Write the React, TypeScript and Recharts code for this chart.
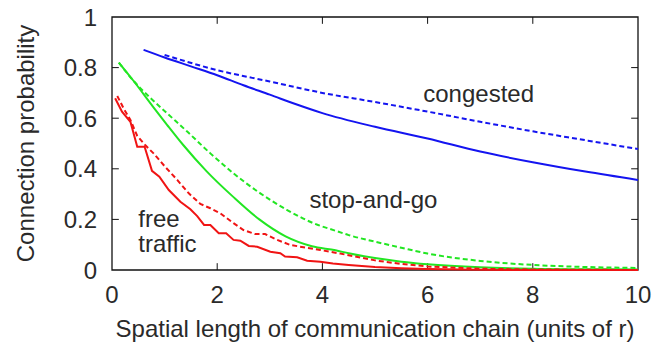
import React from 'react';
import { LineChart, Line, XAxis, YAxis, ReferenceArea, ReferenceLine, ReferenceDot, Label } from 'recharts';

// x positions in units of r
const congestedX = [0.6, 1, 1.5, 2, 2.5, 3, 3.5, 4, 5, 6, 7, 8, 9, 10];
const congestedSim = [0.87, 0.84, 0.805, 0.77, 0.73, 0.693, 0.655, 0.62, 0.566, 0.52, 0.468, 0.426, 0.389, 0.356];
const congestedApproxX = [1, 2, 3, 4, 5, 6, 7, 8, 9, 10];
const congestedApprox = [0.85, 0.79, 0.745, 0.7, 0.664, 0.626, 0.586, 0.548, 0.513, 0.478];

const stopGoX = [0.13, 0.4, 0.8, 1.05, 1.35, 1.8, 2.3, 2.8, 3.3, 3.8, 4.25, 4.5, 5, 5.5, 6, 7, 8, 9, 10];
const stopGoSim = [0.82, 0.75, 0.64, 0.573, 0.495, 0.39, 0.29, 0.2, 0.133, 0.094, 0.078, 0.066, 0.047, 0.033, 0.023, 0.011, 0.005, 0.003, 0.002];
const stopGoApproxX = [0.13, 0.4, 0.73, 1.05, 1.43, 1.87, 2.31, 2.82, 3.33, 3.83, 4.25, 4.5, 5, 5.5, 6, 7, 8, 9, 10];
const stopGoApprox = [0.82, 0.75, 0.68, 0.619, 0.547, 0.461, 0.382, 0.303, 0.237, 0.185, 0.155, 0.138, 0.112, 0.088, 0.065, 0.036, 0.02, 0.012, 0.008];

const freeX = [0.06, 0.19, 0.35, 0.48, 0.62, 0.76, 0.9, 1.08, 1.3, 1.49, 1.62, 1.75, 1.87, 2.03, 2.17, 2.31, 2.44, 2.6, 2.76, 3.01, 3.2, 3.29, 3.52, 3.71, 3.96, 4.2, 4.5, 5, 5.5, 6, 7, 8, 10];
const freeSim = [0.679, 0.626, 0.586, 0.487, 0.487, 0.392, 0.369, 0.316, 0.27, 0.24, 0.213, 0.178, 0.178, 0.145, 0.145, 0.119, 0.116, 0.095, 0.092, 0.072, 0.066, 0.053, 0.05, 0.037, 0.033, 0.026, 0.02, 0.012, 0.007, 0.004, 0.001, 0, 0];
const freeApproxX = [0.1, 0.22, 0.35, 0.48, 0.63, 0.79, 1.01, 1.24, 1.46, 1.68, 1.87, 2.06, 2.31, 2.5, 2.72, 2.91, 3.14, 3.39, 3.64, 3.96, 4.34, 5, 5.5, 6, 7, 8, 10];
const freeApprox = [0.688, 0.639, 0.593, 0.53, 0.494, 0.461, 0.408, 0.356, 0.303, 0.261, 0.244, 0.224, 0.185, 0.158, 0.142, 0.142, 0.119, 0.099, 0.09, 0.079, 0.065, 0.038, 0.024, 0.014, 0.005, 0.002, 0];

const X_TICKS = [0, 2, 4, 6, 8, 10];
const Y_TICKS = [0, 0.2, 0.4, 0.6, 0.8, 1];

const BLUE = '#1414f0';
const GREEN = '#22e622';
const RED = '#f01414';
const TEXT = '#2a2a2a';

const toPoints = (xs: number[], ys: number[]) => xs.map((x, i) => ({ x, y: ys[i] }));

// text placed at a data point: baseline at the point, anchored as given
const annotation = (text: string, anchor: 'start' | 'middle') => (props: any) => {
  const { x, y } = props.viewBox;
  return (
    <text x={x} y={y} textAnchor={anchor} fill={TEXT} fontSize={24}>
      {text}
    </text>
  );
};

export default function App() {
  const series = [
    { key: 'congested-sim', data: toPoints(congestedX, congestedSim), color: BLUE, dash: undefined, type: 'monotone' },
    { key: 'congested-approx', data: toPoints(congestedApproxX, congestedApprox), color: BLUE, dash: '5 3', type: 'monotone' },
    { key: 'stopgo-sim', data: toPoints(stopGoX, stopGoSim), color: GREEN, dash: undefined, type: 'monotone' },
    { key: 'stopgo-approx', data: toPoints(stopGoApproxX, stopGoApprox), color: GREEN, dash: '5 3', type: 'monotone' },
    { key: 'free-sim', data: toPoints(freeX, freeSim), color: RED, dash: undefined, type: 'linear' },
    { key: 'free-approx', data: toPoints(freeApproxX, freeApprox), color: RED, dash: '5 3', type: 'linear' },
  ];

  const innerX = X_TICKS.slice(1, -1);
  const innerY = Y_TICKS.slice(1, -1);

  return (
    <div style={{ position: 'absolute', left: 0, top: 0, width: 669, height: 345, background: '#fff', fontFamily: '"Liberation Sans", Arial, sans-serif' }}>
      <LineChart width={669} height={345} margin={{ top: 17, right: 31, left: 0, bottom: 0 }}>
        <XAxis
          type="number"
          dataKey="x"
          domain={[0, 10]}
          ticks={X_TICKS}
          axisLine={false}
          tickLine={false}
          tickSize={0}
          tickMargin={16}
          height={75}
          tick={{ fill: TEXT, fontSize: 24 }}
        >
          <Label value="Spatial length of communication chain (units of r)" position="insideBottom" offset={8} fill={TEXT} fontSize={24} />
        </XAxis>
        <YAxis
          type="number"
          dataKey="y"
          domain={[0, 1]}
          ticks={Y_TICKS}
          axisLine={false}
          tickLine={false}
          tickSize={0}
          tickMargin={15}
          width={112}
          tick={{ fill: TEXT, fontSize: 24 }}
        >
          <Label value="Connection probability" angle={-90} position="insideLeft" offset={25} fill={TEXT} fontSize={24} style={{ textAnchor: 'middle' }} />
        </YAxis>

        <ReferenceArea x1={0} x2={10} y1={0} y2={1} fill="none" fillOpacity={0} stroke="#111" strokeWidth={1.3} />
        {innerX.map(t => (
          <ReferenceLine key={`b${t}`} segment={[{ x: t, y: 0 }, { x: t, y: 0.027 }]} stroke="#111" />
        ))}
        {innerX.map(t => (
          <ReferenceLine key={`t${t}`} segment={[{ x: t, y: 1 }, { x: t, y: 0.973 }]} stroke="#111" />
        ))}
        {innerY.map(t => (
          <ReferenceLine key={`l${t}`} segment={[{ x: 0, y: t }, { x: 0.13, y: t }]} stroke="#111" />
        ))}
        {innerY.map(t => (
          <ReferenceLine key={`r${t}`} segment={[{ x: 10, y: t }, { x: 9.87, y: t }]} stroke="#111" />
        ))}

        {series.map(s => (
          <Line
            key={s.key}
            data={s.data}
            dataKey="y"
            type={s.type as any}
            stroke={s.color}
            strokeWidth={2}
            strokeDasharray={s.dash}
            dot={false}
            activeDot={false}
            isAnimationActive={false}
          />
        ))}

        <ReferenceDot x={6.97} y={0.665} r={0} fill="none" stroke="none" label={{ content: annotation('congested', 'middle') }} />
        <ReferenceDot x={4.97} y={0.245} r={0} fill="none" stroke="none" label={{ content: annotation('stop-and-go', 'middle') }} />
        <ReferenceDot x={0.5} y={0.17} r={0} fill="none" stroke="none" label={{ content: annotation('free', 'start') }} />
        <ReferenceDot x={0.5} y={0.072} r={0} fill="none" stroke="none" label={{ content: annotation('traffic', 'start') }} />
      </LineChart>
    </div>
  );
}
